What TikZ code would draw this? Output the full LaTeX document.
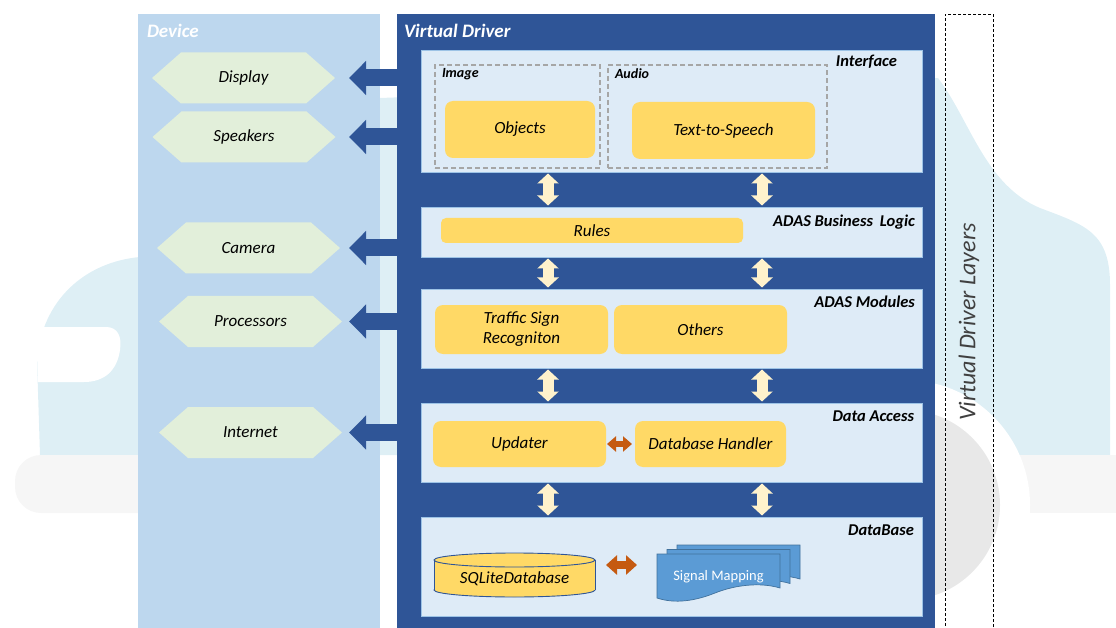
\documentclass[tikz,border=0pt]{standalone}
\usepackage{fontspec}
\setmainfont{Carlito}
\usetikzlibrary{arrows.meta}

\pgfdeclarelayer{car}
\pgfdeclarelayer{back}
\pgfsetlayers{car,back,main}

\definecolor{vdblue}{HTML}{2F5597}
\definecolor{devblue}{HTML}{BDD7EE}
\definecolor{layerfill}{HTML}{DEEBF7}
\definecolor{layerline}{HTML}{9DC3E6}
\definecolor{boxyellow}{HTML}{FFD966}
\definecolor{cream}{HTML}{FFF2CC}
\definecolor{hexgreen}{HTML}{E2EFDA}
\definecolor{orangearr}{HTML}{C55A11}
\definecolor{docblue}{HTML}{5B9BD5}
\definecolor{docline}{HTML}{41719C}
\definecolor{carbody}{HTML}{DEEFF5}
\definecolor{carbumper}{HTML}{F6F6F6}
\definecolor{carwheel}{HTML}{E8E8E8}
\definecolor{dashgray}{HTML}{A6A6A6}
\definecolor{sidetext}{HTML}{404040}

\tikzset{
  every node/.style={inner sep=0pt, outer sep=0pt},
  lbl/.style={font=\fontsize{17}{20}\selectfont\itshape, text=black},
  panelhead/.style={font=\fontsize{19}{22}\selectfont\bfseries\itshape, text=white, anchor=west},
  layerhead/.style={font=\fontsize{16.5}{19}\selectfont\bfseries\itshape, text=black, anchor=east},
  grouphead/.style={font=\fontsize{14}{16}\selectfont\bfseries\itshape, text=black, anchor=west},
  layerbox/.style={fill=layerfill, draw=layerline, line width=0.8pt, minimum width=501pt},
  ybox/.style={lbl, fill=boxyellow, rounded corners=8pt, align=center},
  groupbox/.style={draw=dashgray, line width=1.1pt, dash pattern=on 5pt off 3pt},
  hexnode/.style={lbl, minimum width=183pt, minimum height=51pt},
  devarrow/.style={draw=vdblue, line width=17pt, -{Triangle[width=33pt,length=17pt]}},
  layerarrow/.style={draw=cream, line width=11pt,
    {Triangle[width=21pt,length=10pt]}-{Triangle[width=21pt,length=10pt]},
    shorten <=1.5pt, shorten >=1.5pt},
  swaparrow/.style={draw=orangearr, line width=6pt,
    {Triangle[width=15pt,length=9pt]}-{Triangle[width=15pt,length=9pt]}},
  swaparrowbig/.style={draw=orangearr, line width=8pt,
    {Triangle[width=19pt,length=11pt]}-{Triangle[width=19pt,length=11pt]}},
}

\begin{document}
\begin{tikzpicture}[x=1pt,y=-1pt]
\useasboundingbox (0,0) rectangle (1116,628);

% faint car silhouette behind everything
\begin{pgfonlayer}{car}
  \fill[carbody] (40,455) -- (37,360) .. controls (42,300) and (85,262) .. (140,257)
    -- (380,98) -- (938,78) .. controls (970,120) and (985,185) .. (1040,208)
    .. controls (1085,225) and (1110,232) .. (1110,285) -- (1110,455) -- cycle;
  \fill[white] (36,327) -- (106,327) .. controls (118,327) and (122,337) .. (120,350)
    .. controls (117,371) and (104,382) .. (84,382) -- (38,382) -- cycle;
  \fill[carbumper, rounded corners=26pt] (15,455) rectangle (220,513);
  \fill[carbumper] (960,455) rectangle (1116,513);
  \fill[white] (905,505) circle[radius=125pt];
  \fill[carwheel] (905,505) circle[radius=95pt];
\end{pgfonlayer}

% the two main columns
\begin{pgfonlayer}{back}
  \node[fill=devblue, minimum width=242pt, minimum height=614pt] (device) at (259,321) {};
  \node[fill=vdblue, minimum width=538pt, minimum height=614pt] (vd) at (666,321) {};
\end{pgfonlayer}
\node[panelhead] (devtitle) at (147,31) {Device};
\node[panelhead] (vdtitle) at (404,31) {Virtual Driver};

% layers frame on the right
\node[draw=black, line width=0.7pt, dash pattern=on 3pt off 2pt,
      minimum width=48pt, minimum height=620pt] (layersbox) at (969,324) {};
\node[font=\fontsize{24}{28}\selectfont\itshape, text=sidetext, rotate=90] (layerstitle) at (969,322) {Virtual Driver Layers};

% layers
\node[layerbox, minimum height=122pt] (iface) at (671.5,111) {};
\node[layerbox, minimum height=50pt]  (biz)   at (671.5,232) {};
\node[layerbox, minimum height=79pt]  (mods)  at (671.5,328.5) {};
\node[layerbox, minimum height=79pt]  (dacc)  at (671.5,442.5) {};
\node[layerbox, minimum height=99pt]  (dbase) at (671.5,566.5) {};

\node[layerhead] (ifacehead) at (897,62)  {Interface};
\node[layerhead] (bizhead)   at (915,222) {ADAS Business\hspace{3pt} Logic};
\node[layerhead] (modshead)  at (915,302) {ADAS Modules};
\node[layerhead] (dacchead)  at (914,416) {Data Access};
\node[layerhead] (dbasehead) at (914,530) {DataBase};

% interface groups
\node[groupbox, minimum width=165pt, minimum height=103pt] (imggrp) at (517.5,116.5) {};
\node[groupbox, minimum width=219pt, minimum height=103pt] (audgrp) at (717.5,116.5) {};
\node[grouphead] (imghead) at (442,74) {Image};
\node[grouphead] (audhead) at (615,74) {Audio};

% components
\node[ybox, minimum width=150pt, minimum height=57pt] (objects) at (520,129.5) {Objects};
\node[ybox, minimum width=183pt, minimum height=57pt] (tts) at (723.5,130.5) {Text-to-Speech};
\node[ybox, rounded corners=5pt, minimum width=302pt, minimum height=25pt] (rules) at (592,230.5) {Rules};
\node[ybox, minimum width=173pt, minimum height=49pt] (tsr) at (521.5,329.5) {Traffic Sign\\Recogniton};
\node[ybox, minimum width=173pt, minimum height=49pt] (others) at (700.5,329.5) {Others};
\node[ybox, minimum width=173pt, minimum height=46pt] (updater) at (519.5,444) {Updater};
\node[ybox, minimum width=151pt, minimum height=46pt] (dbh) at (710.5,444) {Database Handler};

% database cylinder
\fill[boxyellow] (434,560) rectangle (595,590);
\filldraw[fill=boxyellow, draw=vdblue, line width=0.9pt] (514.5,590) ellipse [x radius=80.5pt, y radius=7pt];
\fill[boxyellow] (434,560) rectangle (595,590);
\draw[vdblue, line width=0.9pt] (434,560) -- (434,590) (595,560) -- (595,590);
\filldraw[fill=boxyellow, draw=vdblue, line width=0.9pt] (514.5,560) ellipse [x radius=80.5pt, y radius=7pt];
\node[lbl, minimum width=161pt, minimum height=44pt] (sqlite) at (514.5,579) {SQLiteDatabase};

% stacked documents
\foreach \dx/\dy in {20/-9,10/-4.5,0/0}{
  \filldraw[fill=docblue, draw=docline, line width=0.7pt, shift={(\dx,\dy)}]
    (657,554) -- (780,554) -- (780,588) .. controls (760,582) and (735,585) .. (715,593)
    .. controls (695,601) and (675,604) .. (657,598) -- cycle;
}
\node[font=\fontsize{14.5}{17}\selectfont, text=white, minimum width=123pt, minimum height=46pt] (sigmap) at (718.5,577) {Signal Mapping};

% device side
\node[hexnode] (display)    at (243.5,78)  {Display};
\node[hexnode] (speakers)   at (244,137)   {Speakers};
\node[hexnode] (camera)     at (248.5,248) {Camera};
\node[hexnode] (processors) at (250.5,321.5) {Processors};
\node[hexnode] (internet)   at (250.5,432.5) {Internet};
\begin{pgfonlayer}{back}
  \foreach \h in {display,speakers,camera,processors,internet}{
    \fill[hexgreen] (\h.west) -- ([xshift=29pt]\h.north west) -- ([xshift=-29pt]\h.north east)
      -- (\h.east) -- ([xshift=-29pt]\h.south east) -- ([xshift=29pt]\h.south west) -- cycle;
  }
\end{pgfonlayer}

% connectors to devices
\coordinate (tipx) at (349,0);
\foreach \h in {display,speakers,camera,processors,internet}{
  \draw[devarrow] (vd.west |- \h.east) -- (tipx |- \h.east);
}

% connectors between layers
\coordinate (colA) at (548,0);
\coordinate (colB) at (762,0);
\foreach \a/\b in {iface/biz,biz/mods,mods/dacc,dacc/dbase}{
  \draw[layerarrow] (colA |- \a.south) -- (colA |- \b.north);
  \draw[layerarrow] (colB |- \a.south) -- (colB |- \b.north);
}

% exchanges inside layers
\draw[swaparrow, shorten <=1pt, shorten >=3pt] (updater.east) -- (dbh.west);
\coordinate (dbrow) at (0,565);
\draw[swaparrowbig, shorten <=11pt, shorten >=20pt] (sqlite.east |- dbrow) -- (sigmap.west |- dbrow);
\end{tikzpicture}
\end{document}
